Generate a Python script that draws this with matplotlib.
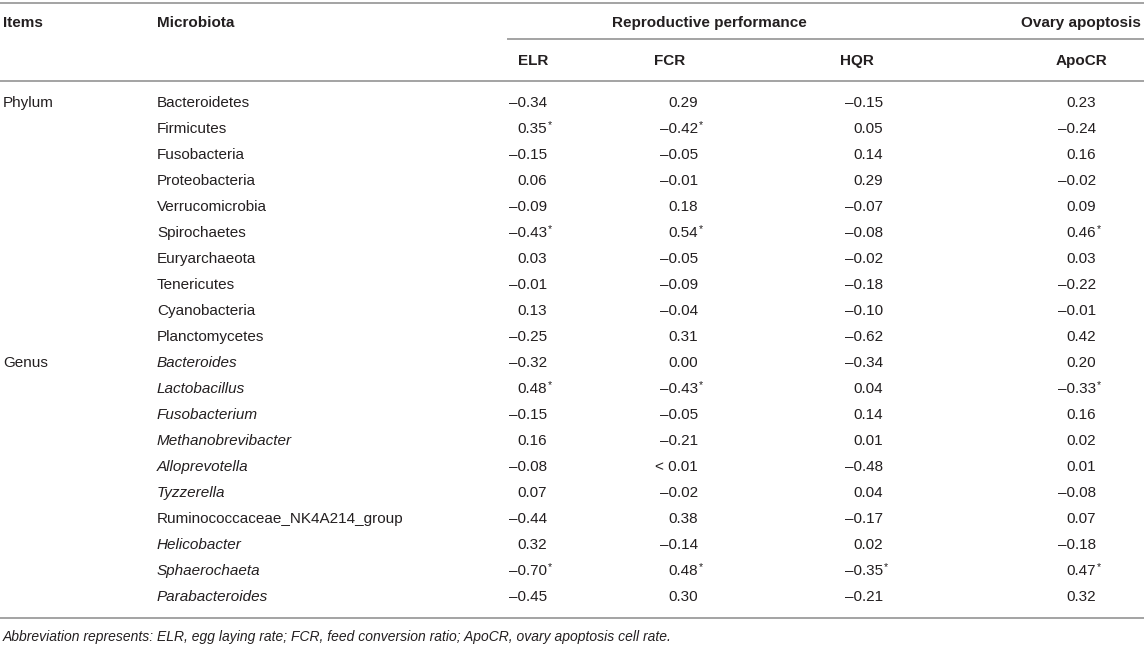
import matplotlib
matplotlib.use("Agg")
import matplotlib.pyplot as plt

plt.rcParams['font.family'] = ['Liberation Sans', 'DejaVu Sans']

# table content
items = ["Phylum", "", "", "", "", "", "", "", "", "",
         "Genus", "", "", "", "", "", "", "", "", ""]
microbiota = ["Bacteroidetes", "Firmicutes", "Fusobacteria", "Proteobacteria",
              "Verrucomicrobia", "Spirochaetes", "Euryarchaeota", "Tenericutes",
              "Cyanobacteria", "Planctomycetes",
              "Bacteroides", "Lactobacillus", "Fusobacterium", "Methanobrevibacter",
              "Alloprevotella", "Tyzzerella", "Ruminococcaceae_NK4A214_group",
              "Helicobacter", "Sphaerochaeta", "Parabacteroides"]
italic = [False] * 10 + [True] * 6 + [False] + [True] * 3
elr = ["–0.34", "0.35*", "–0.15", "0.06", "–0.09", "–0.43*", "0.03", "–0.01", "0.13", "–0.25",
       "–0.32", "0.48*", "–0.15", "0.16", "–0.08", "0.07", "–0.44", "0.32", "–0.70*", "–0.45"]
fcr = ["0.29", "–0.42*", "–0.05", "–0.01", "0.18", "0.54*", "–0.05", "–0.09", "–0.04", "0.31",
       "0.00", "–0.43*", "–0.05", "–0.21", "< 0.01", "–0.02", "0.38", "–0.14", "0.48*", "0.30"]
hqr = ["–0.15", "0.05", "0.14", "0.29", "–0.07", "–0.08", "–0.02", "–0.18", "–0.10", "–0.62",
       "–0.34", "0.04", "0.14", "0.01", "–0.48", "0.04", "–0.17", "0.02", "–0.35*", "–0.21"]
apocr = ["0.23", "–0.24", "0.16", "–0.02", "0.09", "0.46*", "0.03", "–0.22", "–0.01", "0.42",
         "0.20", "–0.33*", "0.16", "0.02", "0.01", "–0.08", "0.07", "–0.18", "0.47*", "0.32"]
sub_headers = ["ELR", "FCR", "HQR", "ApoCR"]
footnote = ("Abbreviation represents: ELR, egg laying rate; FCR, feed conversion ratio; "
            "ApoCR, ovary apoptosis cell rate.")

W, H = 1144, 654
fig = plt.figure(figsize=(W / 100, H / 100), dpi=100)
ax = fig.add_axes([0, 0, 1, 1])
ax.set_xlim(0, W)
ax.set_ylim(H, 0)
ax.axis("off")

txt = "#231f20"
rule = "#a3a3a3"
fs = 11

x_items, x_micro = 3, 157
col_right = [547, 698, 883, 1096]
col_center = [533, 670, 857, 1082]
y_head1, y_head2 = 23, 61
y_row0, dy = 103, 26

# rules
ax.plot([0, W], [3, 3], color=rule, lw=1.4)
ax.plot([508, W], [39, 39], color=rule, lw=1.4)
ax.plot([0, W], [81, 81], color=rule, lw=1.4)
ax.plot([0, W], [618, 618], color=rule, lw=1.4)

# headers
hd = dict(fontsize=fs, color=txt, fontweight="bold", va="center")
ax.text(x_items, y_head1, "Items", ha="left", **hd)
ax.text(x_micro, y_head1, "Microbiota", ha="left", **hd)
ax.text(709, y_head1, "Reproductive performance", ha="center", **hd)
ax.text(1141, y_head1, "Ovary apoptosis", ha="right", **hd)
for cx, name in zip(col_center, sub_headers):
    ax.text(cx, y_head2, name, ha="center", **hd)

# body
for i in range(len(microbiota)):
    y = y_row0 + i * dy
    if items[i]:
        ax.text(x_items, y, items[i], ha="left", va="center", fontsize=fs, color=txt)
    ax.text(x_micro, y, microbiota[i], ha="left", va="center", fontsize=fs, color=txt,
            style="italic" if italic[i] else "normal")
    for xr, col in zip(col_right, [elr, fcr, hqr, apocr]):
        v = col[i]
        star = v.endswith("*")
        v = v.rstrip("*")
        ax.text(xr, y, v, ha="right", va="center", fontsize=fs, color=txt)
        if star:
            ax.text(xr + 0.5, y - 4, "*", ha="left", va="center", fontsize=fs * 0.7, color=txt)

ax.text(x_items, 637, footnote, ha="left", va="center", fontsize=10,
        color=txt, style="italic")

fig.savefig("out.png", dpi=100)
